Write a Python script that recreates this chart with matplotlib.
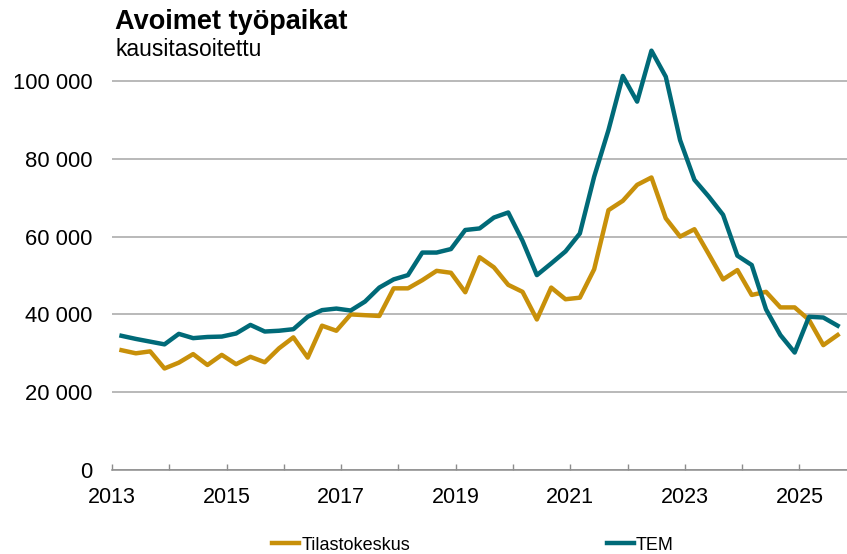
import matplotlib.pyplot as plt
from matplotlib.ticker import FuncFormatter, MultipleLocator, FixedLocator

# neljännesvuosittain 2013Q1 - 2025Q3
vuodet = list(range(2013, 2026))
neljannes = [1, 2, 3, 4]

tilastokeskus = [30.8, 30.0, 30.5, 26.1, 27.6, 29.8, 27.0, 29.6, 27.2, 29.1,
                 27.7, 31.3, 34.1, 28.9, 37.1, 35.8, 40.0, 39.8, 39.6, 46.7,
                 46.7, 48.8, 51.2, 50.7, 45.7, 54.7, 52.1, 47.6, 45.8, 38.7,
                 46.9, 43.9, 44.3, 51.6, 66.8, 69.2, 73.3, 75.2, 64.7, 60.0,
                 61.9, 55.5, 49.0, 51.4, 45.0, 45.8, 41.8, 41.8, 38.6, 32.1, 34.7]
tem = [34.5, 33.7, 33.0, 32.3, 35.0, 33.9, 34.2, 34.3, 35.1, 37.3,
       35.6, 35.8, 36.2, 39.4, 41.1, 41.5, 41.0, 43.3, 46.9, 49.0,
       50.1, 55.9, 55.9, 56.8, 61.7, 62.1, 64.9, 66.2, 58.9, 50.1,
       53.1, 56.2, 60.8, 75.4, 87.4, 101.3, 94.7, 107.8, 101.1, 84.8,
       74.6, 70.3, 65.6, 55.1, 52.7, 41.3, 34.7, 30.2, 39.4, 39.2, 37.1]

# neljänneksen viimeinen kuukausi
x = []
for v in vuodet:
    for q in neljannes:
        x.append(v + (3 * q - 1) / 12)
x = x[:len(tem)]

tk = [a * 1000 for a in tilastokeskus]
te = [a * 1000 for a in tem]

plt.rcParams['font.family'] = ['Liberation Sans', 'DejaVu Sans']

fig = plt.figure(figsize=(8.47, 5.54), dpi=100)
ax = fig.add_axes([0.1322, 0.1516, 0.8678, 0.7724])

vari_tk = '#c8900a'
vari_tem = '#006a78'

ax.plot(x, tk, color=vari_tk, lw=3.2, label='Tilastokeskus', solid_joinstyle='round')
ax.plot(x, te, color=vari_tem, lw=3.2, label='TEM', solid_joinstyle='round')

ax.set_xlim(2013, 2025.83)
ax.set_ylim(0, 110000)

ax.yaxis.set_major_locator(MultipleLocator(20000))
ax.yaxis.set_major_formatter(FuncFormatter(lambda v, p: '{:,}'.format(int(v)).replace(',', ' ')))
ax.grid(axis='y', color='#a6a6a6', lw=1.1)
ax.set_axisbelow(True)

ax.xaxis.set_major_locator(FixedLocator(vuodet[::2]))
ax.xaxis.set_minor_locator(FixedLocator(vuodet[1::2]))
ax.xaxis.set_major_formatter(FuncFormatter(lambda v, p: str(int(round(v)))))
ax.tick_params(axis='x', which='both', direction='in', length=4, color='#8c8c8c', width=1, labelsize=15.5, pad=12)
ax.tick_params(axis='y', length=0, labelsize=15.8, pad=14)

for s in ['top', 'right', 'left']:
    ax.spines[s].set_visible(False)
ax.spines['bottom'].set_color('#8c8c8c')
ax.spines['bottom'].set_linewidth(1.1)

fig.text(115 / 847, 1 - 22 / 554, 'Avoimet työpaikat', fontsize=19.5, fontweight='bold', va='center', ha='left')
fig.text(115 / 847, 1 - 49 / 554, 'kausitasoitettu', fontsize=16.5, va='center', ha='left')

fig.legend(loc='center', bbox_to_anchor=(473 / 847, 1 - 545 / 554), ncol=2, frameon=False,
           fontsize=13, handlelength=1.5, handletextpad=0.1, columnspacing=10.9)

fig.savefig('out.png', dpi=100)
